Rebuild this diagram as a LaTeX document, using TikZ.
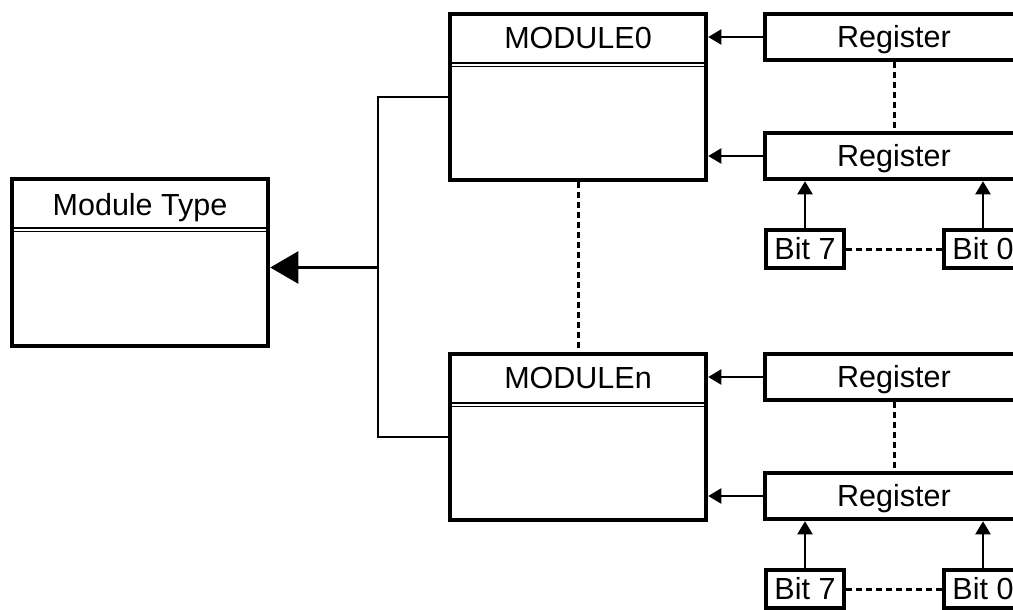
\documentclass[tikz,border=0pt]{standalone}
\usepackage{fontspec}
\setmainfont{Liberation Sans}
\usetikzlibrary{arrows.meta}

\begin{document}
\begin{tikzpicture}[x=1pt,y=-1pt,
    every node/.style={font=\fontsize{30.5}{36}\selectfont,text height=21.8pt,text depth=0pt},
    classbox/.style={draw,line width=4.5pt,minimum width=256pt,minimum height=#1,inner sep=0pt},
    regbox/.style={draw,line width=4.5pt,minimum width=258pt,minimum height=46pt,inner sep=0pt},
    bitbox/.style={draw,line width=4.5pt,minimum width=78pt,minimum height=38pt,inner sep=0pt},
    sepline/.style={double,line width=1.3pt,double distance=2.4pt},
    feed/.style={line width=2pt,-{Triangle[length=13pt,width=15pt]}},
    tree/.style={line width=2.4pt},
    gap/.style={line width=3pt,dash pattern=on 6pt off 4pt}]
\useasboundingbox (0,0) rectangle (1013,610);
\clip (0,0) rectangle (1013,610);

% Parameters
\def\modx{578}
\def\regx{894}

% Base type
\node[classbox=167pt] (mt) at (140,262.5) {};
\node at ([yshift=-28pt]mt.north) {Module Type};
\draw[sepline] ([yshift=-53pt,xshift=4pt]mt.north west) -- ([yshift=-53pt,xshift=-4pt]mt.north east);

% Modules with their registers and bits
\foreach \m/\s/\lbl in {0/0/MODULE0,n/340/MODULEn} {
    \begin{scope}[shift={(0,\s)}]
        % Module box
        \node[classbox=166pt] (mod\m) at (\modx,97) {};
        \node at ([yshift=-26pt]mod\m.north) {\lbl};
        \draw[sepline] ([yshift=-53pt,xshift=4pt]mod\m.north west) -- ([yshift=-53pt,xshift=-4pt]mod\m.north east);

        % Registers
        \node[regbox] (regA\m) at (\regx,37) {Register};
        \node[regbox] (regB\m) at (\regx,156) {Register};

        % Bits
        \node[bitbox] (bitH\m) at (805,249) {Bit 7};
        \node[bitbox] (bitL\m) at (983,249) {Bit 0};

        % Connections
        \draw[feed] (regA\m.west) -- (regA\m.west -| mod\m.east);
        \draw[feed] (regB\m.west) -- (regB\m.west -| mod\m.east);
        \draw[feed] (bitH\m.north) -- (bitH\m.north |- regB\m.south);
        \draw[feed] (bitL\m.north) -- (bitL\m.north |- regB\m.south);
        \draw[gap] (regA\m.south) -- (regB\m.north);
        \draw[gap] (bitH\m.east) -- (bitL\m.west);
    \end{scope}
}

% Inheritance tree
\draw[gap] (mod0.south) -- (modn.north);
\coordinate (join) at (378,267.5);
\draw[tree] (mod0.west) -| (join) |- (modn.west);
\draw[tree,-{Triangle[length=28pt,width=32pt]}] (join) -- (join -| mt.east);
\end{tikzpicture}
\end{document}
